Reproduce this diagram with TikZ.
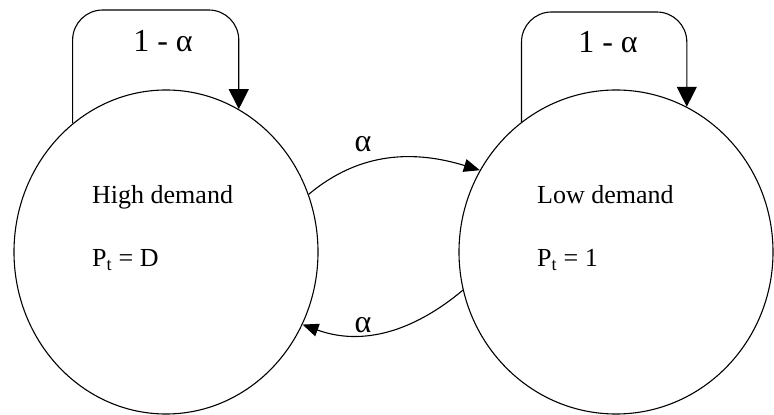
\documentclass[tikz,border=0pt]{standalone}
\usepackage{fontspec}
\setmainfont{Liberation Serif}
\usetikzlibrary{shapes.geometric, arrows.meta, positioning}

\begin{document}
\begin{tikzpicture}[
    x=1pt, y=1pt,
    statenode/.style={ellipse, draw, line width=1.1pt, minimum width=304pt, minimum height=324pt, inner sep=0pt},
    statetext/.style={anchor=base west, inner sep=0pt, font=\fontsize{26}{30}\selectfont},
    probtext/.style={anchor=base, inner sep=0pt, font=\fontsize{32}{36}\selectfont},
    looparrow/.style={line width=1.1pt, rounded corners=30pt, -{Triangle[length=20pt, width=20pt]}},
    transarrow/.style={line width=1.1pt, -{Triangle[length=16pt, width=13pt]}}
]
\useasboundingbox (0,0) rectangle (774,415);
\node[statenode] (high) at (166,163) {};
\node[statenode, minimum width=314pt] (low) at (616,163) {};
\node[statetext] (hightxt) at (92,211) {High demand};
\node[statetext] (highprice) at (92,148) {P\textsubscript{t} = D};
\node[statetext] (lowtxt) at (537,211) {Low demand};
\node[statetext] (lowprice) at (537,148) {P\textsubscript{t} = 1};

\coordinate (hightop) at (160,405);
\coordinate (lowtop) at (605,403);
\draw[looparrow] (high.126) |- (hightop) -| (high.63);
\draw[looparrow] (low.126) |- (lowtop) -| (low.64);
\node[probtext] (highstay) at (163,363) {1 - α};
\node[probtext] (lowstay) at (608,362) {1 - α};

\draw[transarrow] (high.22) to[out=40, in=163] (low.149);
\draw[transarrow] (low.194) to[out=220, in=-20] (high.332);
\node[probtext] (highlow) at (363,263) {α};
\node[probtext] (lowhigh) at (363,82) {α};
\end{tikzpicture}
\end{document}
